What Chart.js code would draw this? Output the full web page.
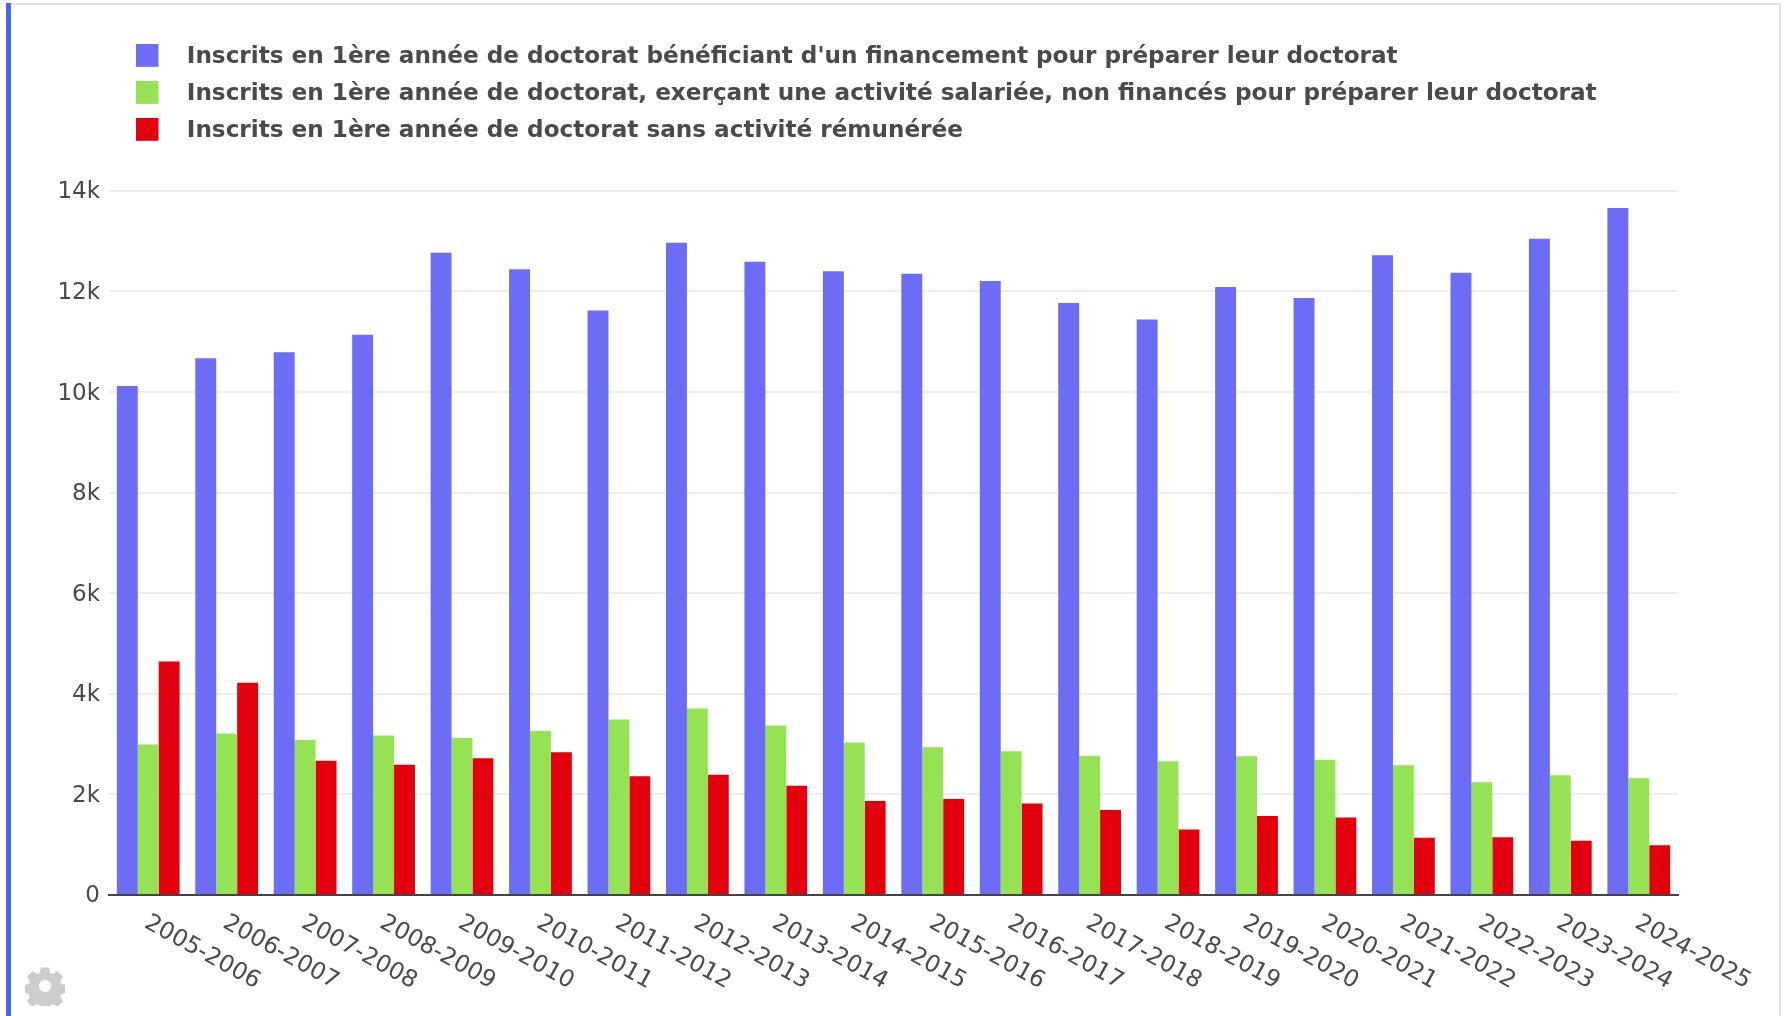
<!DOCTYPE html>
<html lang="fr">
<head>
<meta charset="utf-8">
<title>Inscrits en 1ère année de doctorat</title>
<script src="https://cdn.jsdelivr.net/npm/chart.js@4"></script>
<style>
html,body{margin:0;padding:0;background:#fff;overflow:hidden}
#wrap{position:relative;width:1786px;height:1016px}
#top{position:absolute;left:7px;top:3px;width:1774px;height:2px;background:#dfe3ea}
#right{position:absolute;left:1779px;top:3px;width:2px;height:1013px;background:#dfe3ea}
#left{position:absolute;left:6px;top:3px;width:5px;height:1013px;background:#4a66ee}
canvas#c{position:absolute;left:0;top:0}
#gear{position:absolute;left:25px;top:966px;width:40px;height:40px}
</style>
</head>
<body>
<div id="wrap">
<div id="top"></div><div id="right"></div><div id="left"></div>
<canvas id="c" width="1786" height="1016"></canvas>
<svg id="gear" viewBox="0 0 40 40"><path fill="#cccccc" stroke="#cccccc" stroke-width="1" stroke-linejoin="round" fill-rule="evenodd" d="M16.5 2h7l1.2 5 3.4 1.4 4.4-2.7 5 5-2.7 4.4 1.4 3.4 5 1.2v6.6l-5 1.2-1.4 3.4 2.7 4.4-5 5-4.4-2.7-3.4 1.4-1.2 5.2h-7l-1.2-5.2-3.4-1.4-4.4 2.7-5-5 2.7-4.4-1.4-3.4-5-1.2v-6.6l5-1.2 1.4-3.4-2.7-4.4 5-5 4.4 2.7 3.4-1.4zM20 13.5a6.5 6.5 0 1 0 0 13 6.5 6.5 0 0 0 0-13z"/></svg>
</div>
<script>
const categories = ["2005-2006","2006-2007","2007-2008","2008-2009","2009-2010","2010-2011","2011-2012","2012-2013","2013-2014","2014-2015","2015-2016","2016-2017","2017-2018","2018-2019","2019-2020","2020-2021","2021-2022","2022-2023","2023-2024","2024-2025"];
const financed = [10120,10670,10790,11140,12770,12440,11620,12970,12590,12400,12350,12210,11770,11440,12090,11870,12720,12370,13050,13660];
const employed = [2990,3210,3080,3170,3120,3260,3490,3710,3370,3030,2940,2860,2770,2660,2760,2690,2580,2240,2380,2320];
const unpaid = [4640,4220,2670,2590,2720,2840,2360,2390,2170,1870,1910,1820,1690,1300,1570,1540,1140,1150,1080,990];
const seriesNames = ["Inscrits en 1ère année de doctorat bénéficiant d'un financement pour préparer leur doctorat","Inscrits en 1ère année de doctorat, exerçant une activité salariée, non financés pour préparer leur doctorat","Inscrits en 1ère année de doctorat sans activité rémunérée"];
const seriesColors = ["#6c6cf5","#95e254","#e2000f"];
const yTicks = [0,2000,4000,6000,8000,10000,12000,14000];

const FONT = "'DejaVu Sans', Verdana, sans-serif";
const TEXT = "#4a4a4a";

function swatch(color){
  const c=document.createElement('canvas');
  c.width=40;c.height=27;
  const g=c.getContext('2d');
  g.fillStyle=color;g.fillRect(0,0,23,23);
  return c;
}
const swatches = seriesColors.map(swatch);

const legendShift = {
  id:'legendShift',
  afterLayout(chart){
    const l = chart.legend;
    l.left = 122; l.right = 1786; l.top = 32;
    l.adjustHitBoxes();
  }
};

new Chart(document.getElementById('c'),{
  type:'bar',
  plugins:[legendShift],
  data:{
    labels:categories,
    datasets:[
      {label:seriesNames[0],data:financed,backgroundColor:seriesColors[0]},
      {label:seriesNames[1],data:employed,backgroundColor:seriesColors[1]},
      {label:seriesNames[2],data:unpaid,backgroundColor:seriesColors[2]}
    ]
  },
  options:{
    responsive:false,
    animation:false,
    events:[],
    layout:{padding:{left:0,right:108,top:70,bottom:0}},
    datasets:{bar:{categoryPercentage:0.8,barPercentage:1,borderWidth:0}},
    plugins:{
      tooltip:{enabled:false},
      title:{display:false},
      legend:{
        display:true,position:'top',align:'start',
        labels:{
          usePointStyle:true,pointStyleWidth:39.4,boxHeight:23,padding:13.8,
          color:TEXT,
          font:{family:FONT,size:23.15,weight:'bold'},
          generateLabels(chart){
            return Chart.defaults.plugins.legend.labels.generateLabels(chart)
              .map((it,i)=>({...it,pointStyle:swatches[i]}));
          }
        }
      }
    },
    scales:{
      x:{
        grid:{display:false,drawTicks:false},
        border:{display:true,color:'#444444',width:2},
        afterFit(s){s.height=121;},
        afterBuildTicks(s){s._getXAxisLabelAlignment=()=>'left';},
        ticks:{
          autoSkip:false,minRotation:-29,maxRotation:-29,padding:14,labelOffset:-2,
          color:TEXT,font:{family:FONT,size:23.5}
        }
      },
      y:{
        min:0,max:14000,
        afterFit(s){s.width=109;},
        afterBuildTicks(s){s.ticks=yTicks.map(v=>({value:v}));},
        grid:{color:'#eeeeee',lineWidth:2,drawTicks:false},
        border:{display:false},
        ticks:{
          padding:9,labelOffset:1.5,color:TEXT,font:{family:FONT,size:23},
          callback:v=>v===0?'0':(v/1000)+'k'
        }
      }
    }
  }
});
</script>
</body>
</html>
